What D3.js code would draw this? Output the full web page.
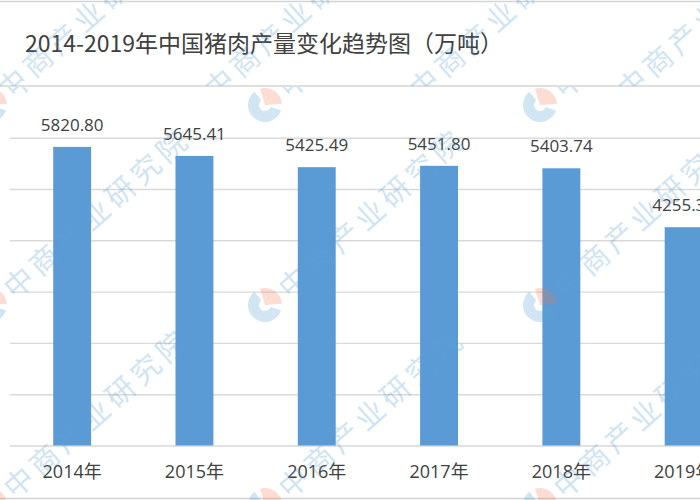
<!DOCTYPE html>
<html>
<head>
<meta charset="utf-8">
<script src="https://cdn.jsdelivr.net/npm/d3@7"></script>
<style>
  html, body { margin: 0; padding: 0; background: #fff; }
  svg { display: block; }
</style>
</head>
<body>
<svg id="chart" width="700" height="500"></svg>
<script>
const titleText = "2014-2019年中国猪肉产量变化趋势图（万吨）";
const categories = ["2014年", "2015年", "2016年", "2017年", "2018年", "2019年"];
const values = [5820.80, 5645.41, 5425.49, 5451.80, 5403.74, 4255.31];
const gridTicks = [0, 1000, 2000, 3000, 4000, 5000, 6000];
const watermarkText = "中商产业研究院";

const svg = d3.select("#chart");
const W = 700, H = 500;
const textColor = "#404040";
const gridColor = "#d9d9d9";
const barColor = "#5b9bd5";

// frame lines
[1.5, 86, 498.5].forEach(yy => {
  svg.append("line").attr("x1", 0).attr("x2", W).attr("y1", yy).attr("y2", yy)
    .attr("stroke", "#d4d4d4").attr("stroke-width", 1.5);
});

// title
svg.append("text")
  .attr("x", 25).attr("y", 52)
  .attr("font-family", "'Noto Sans CJK SC', 'Noto Sans', sans-serif")
  .attr("font-size", 23)
  .attr("fill", textColor)
  .text(titleText);

const x = d3.scaleBand().domain(categories).range([11, 11 + 6 * 122.3])
  .paddingInner(0.69).paddingOuter(0.345);
const y = d3.scaleLinear().domain([0, 6000]).range([445.5, 137.7]);

// gridlines
const grid = svg.append("g").attr("transform", "translate(10,0)")
  .call(d3.axisLeft(y).tickValues(gridTicks).tickSize(-(W - 10)).tickFormat(""));
grid.select(".domain").remove();
grid.selectAll(".tick line").attr("stroke", gridColor).attr("stroke-width", 1.4);

// bars
svg.append("g").selectAll("rect").data(values).join("rect")
  .attr("x", (d, i) => x(categories[i]))
  .attr("y", d => y(d))
  .attr("width", x.bandwidth())
  .attr("height", d => y(0) - y(d))
  .attr("fill", barColor);

// value labels
svg.append("g").selectAll("text").data(values).join("text")
  .attr("x", (d, i) => x(categories[i]) + x.bandwidth() / 2)
  .attr("y", d => y(d) - 16)
  .attr("text-anchor", "middle")
  .attr("font-family", "'Open Sans', 'Noto Sans', sans-serif")
  .attr("font-size", 17)
  .attr("fill", textColor)
  .text(d => d.toFixed(2));

// x axis labels
const xa = svg.append("g").attr("transform", `translate(0,${y(0)})`)
  .call(d3.axisBottom(x).tickSize(0));
xa.select(".domain").remove();
xa.selectAll(".tick text")
  .attr("y", 32).attr("dy", 0)
  .attr("font-family", "'Open Sans', 'Noto Sans CJK SC', sans-serif")
  .attr("font-size", 18)
  .attr("fill", textColor);

// watermarks
const ang = -41.7;
const rad = ang * Math.PI / 180;
const dx = Math.cos(rad), dy = Math.sin(rad);
const wm = svg.append("g").attr("pointer-events", "none");

svg.append("clipPath").attr("id", "chartClip").append("rect")
  .attr("x", 0).attr("y", 87).attr("width", W).attr("height", H - 87);
svg.append("clipPath").attr("id", "titleClip").append("rect")
  .attr("x", 0).attr("y", 0).attr("width", W).attr("height", 86);

const wmOpacity = 0.28;
const logoXs = [-10, 265, 540];
const logoYs = [105, 305, 505];
const chartWm = wm.append("g").attr("clip-path", "url(#chartClip)");
logoYs.forEach(ly => logoXs.forEach(lx => {
  const g = chartWm.append("g").attr("transform", `translate(${lx},${ly})`);
  const arc = d3.arc();
  g.append("path").attr("d", arc({innerRadius: 0, outerRadius: 17, startAngle: -0.3, endAngle: 1.5}))
    .attr("fill", "#ee7755").attr("opacity", 0.25);
  g.append("path").attr("d", arc({innerRadius: 6, outerRadius: 17, startAngle: 1.9, endAngle: 5.6}))
    .attr("fill", "#5aa0d5").attr("opacity", wmOpacity);
  g.append("text")
    .attr("transform", `translate(${22 * dx},${22 * dy}) rotate(${ang})`)
    .attr("dominant-baseline", "central")
    .attr("font-family", "'Noto Sans CJK SC', sans-serif")
    .attr("font-size", 29)
    .attr("letter-spacing", 5)
    .attr("fill", "#5aa0d5").attr("opacity", wmOpacity)
    .text(watermarkText);
}));

const titleWm = wm.append("g").attr("clip-path", "url(#titleClip)");
[[0, 92], [207, 92], [412, 92], [620, 92]].forEach(([sx, sy]) => {
  titleWm.append("text")
    .attr("transform", `translate(${sx},${sy}) rotate(${ang})`)
    .attr("dominant-baseline", "central")
    .attr("font-family", "'Noto Sans CJK SC', sans-serif")
    .attr("font-size", 29)
    .attr("letter-spacing", 5)
    .attr("fill", "#5aa0d5").attr("opacity", wmOpacity)
    .text(watermarkText);
});
</script>
</body>
</html>
